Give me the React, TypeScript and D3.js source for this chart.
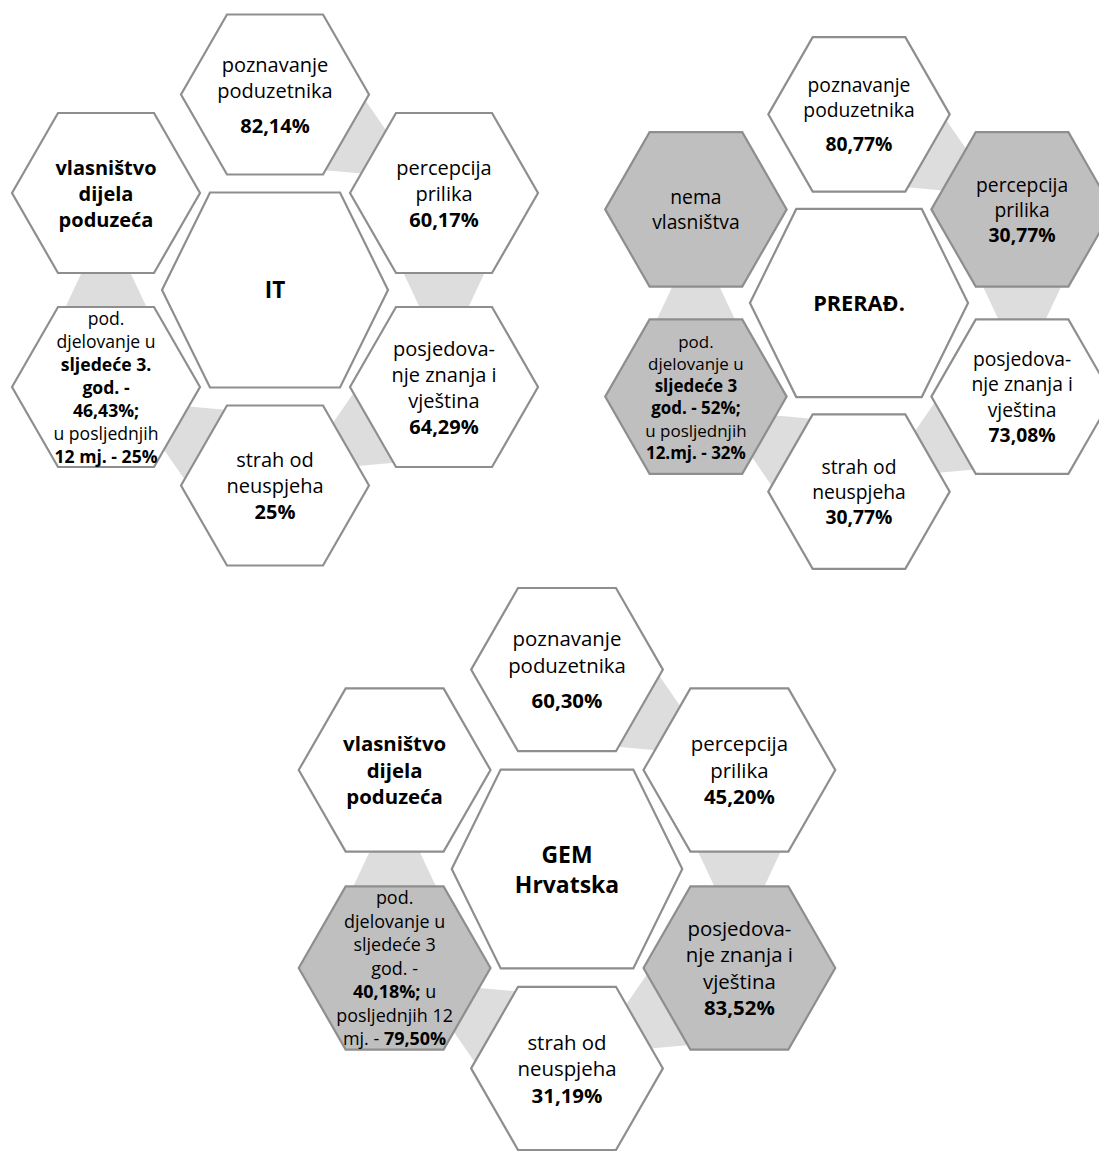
import React from "react";
import * as d3 from "d3";

const W = 1099;
const H = 1151;

// ---- data ----
const clusterNames = ["IT", "PRERAĐ.", "GEM\nHrvatska"];

// labels for outer hexagons, clockwise from the top (**bold**)
const itLabels = [
  "poznavanje\npoduzetnika\n\n**82,14%**",
  "percepcija\nprilika\n**60,17%**",
  "posjedova-\nnje znanja i\nvještina\n**64,29%**",
  "strah od\nneuspjeha\n**25%**",
  "pod.\ndjelovanje u\n**sljedeće 3.**\n**god. -**\n**46,43%;**\nu posljednjih\n**12 mj. - 25%**",
  "**vlasništvo**\n**dijela**\n**poduzeća**",
];
const preradLabels = [
  "poznavanje\npoduzetnika\n\n**80,77%**",
  "percepcija\nprilika\n**30,77%**",
  "posjedova-\nnje znanja i\nvještina\n**73,08%**",
  "strah od\nneuspjeha\n**30,77%**",
  "pod.\ndjelovanje u\n**sljedeće 3**\n**god. - 52%;**\nu posljednjih\n**12.mj. - 32%**",
  "nema\nvlasništva",
];
const gemLabels = [
  "poznavanje\npoduzetnika\n\n**60,30%**",
  "percepcija\nprilika\n**45,20%**",
  "posjedova-\nnje znanja i\nvještina\n**83,52%**",
  "strah od\nneuspjeha\n**31,19%**",
  "pod.\ndjelovanje u\nsljedeće 3\ngod. -\n**40,18%;** u\nposljednjih 12\nmj. - **79,50%**",
  "**vlasništvo**\n**dijela**\n**poduzeća**",
];
const itHighlight = [false, false, false, false, false, false];
const preradHighlight = [false, true, false, false, true, true];
const gemHighlight = [false, false, true, false, true, false];

const clusterLabels = [itLabels, preradLabels, gemLabels];
const clusterHighlights = [itHighlight, preradHighlight, gemHighlight];

// ---- layout ----
const clusterCenters: [number, number][] = [
  [275, 290],
  [859, 303],
  [567, 869],
];
const clusterScales = [1, 0.965, 1.02];

const OFF_TOP = 195.5;
const OFF_SIDE_X = 169;
const OFF_SIDE_Y = 97;
const nodeOffsets: [number, number][] = [
  [0, -OFF_TOP],
  [OFF_SIDE_X, -OFF_SIDE_Y],
  [OFF_SIDE_X, OFF_SIDE_Y],
  [0, OFF_TOP],
  [-OFF_SIDE_X, OFF_SIDE_Y],
  [-OFF_SIDE_X, -OFF_SIDE_Y],
];

const OUTER = { w: 188, h: 160, inset: 46 };
const CENTER = { w: 226, h: 195, inset: 48 };

const STROKE = "#8e8e8e";
const FILL_HI = "#bfbfbf";
const CONNECTOR = "#dddddd";
const FONT = "'Open Sans', 'DejaVu Sans', sans-serif";

function hexPath(cx: number, cy: number, w: number, h: number, inset: number) {
  const p = d3.path();
  p.moveTo(cx - w / 2, cy);
  p.lineTo(cx - w / 2 + inset, cy - h / 2);
  p.lineTo(cx + w / 2 - inset, cy - h / 2);
  p.lineTo(cx + w / 2, cy);
  p.lineTo(cx + w / 2 - inset, cy + h / 2);
  p.lineTo(cx - w / 2 + inset, cy + h / 2);
  p.closePath();
  return p.toString();
}

function connectorPath(a: [number, number], b: [number, number], s: number) {
  const mx = (a[0] + b[0]) / 2;
  const my = (a[1] + b[1]) / 2;
  const dx = b[0] - a[0];
  const dy = b[1] - a[1];
  const len = Math.hypot(dx, dy);
  const ux = dx / len, uy = dy / len;
  const nx = -uy, ny = ux;
  const hw = (t: number) => (32.5 - 0.47 * t) * s;
  const t0 = -60, t1 = 60;
  const pts: [number, number][] = [
    [mx + ux * t0 * s + nx * hw(t0), my + uy * t0 * s + ny * hw(t0)],
    [mx + ux * t1 * s + nx * hw(t1), my + uy * t1 * s + ny * hw(t1)],
    [mx + ux * t1 * s - nx * hw(t1), my + uy * t1 * s - ny * hw(t1)],
    [mx + ux * t0 * s - nx * hw(t0), my + uy * t0 * s - ny * hw(t0)],
  ];
  return d3.line()(pts)! + "Z";
}

type Seg = { t: string; b: boolean };
function parseLine(line: string): Seg[] {
  const parts = line.split("**");
  return parts
    .map((t, i) => ({ t, b: i % 2 === 1 }))
    .filter((p) => p.t.length > 0);
}

function Label({
  cx,
  cy,
  text,
  size,
  spacing,
  bold,
}: {
  cx: number;
  cy: number;
  text: string;
  size: number;
  spacing: number;
  bold?: boolean;
}) {
  const raw = text.split("\n");
  const ys: number[] = [];
  const lines: string[] = [];
  let y = 0;
  let first = true;
  for (const l of raw) {
    if (l === "") {
      y += spacing * 0.35;
      continue;
    }
    if (!first) y += spacing;
    first = false;
    ys.push(y);
    lines.push(l);
  }
  const total = ys[ys.length - 1];
  const top = cy - total / 2 + 1;
  return (
    <g>
      {lines.map((l, i) => (
        <text
          key={i}
          x={cx}
          y={top + ys[i]}
          dy="0.33em"
          textAnchor="middle"
          fontFamily={FONT}
          fontSize={size}
          fill="#000"
          fontWeight={bold ? 700 : 400}
        >
          {parseLine(l).map((sg, j) => (
            <tspan key={j} fontWeight={sg.b || bold ? 700 : 400}>
              {sg.t}
            </tspan>
          ))}
        </text>
      ))}
    </g>
  );
}

function Cluster({ idx }: { idx: number }) {
  const [cx, cy] = clusterCenters[idx];
  const s = clusterScales[idx];
  const labels = clusterLabels[idx];
  const hi = clusterHighlights[idx];
  const nodes: [number, number][] = nodeOffsets.map(([dx, dy]) => [cx + dx * s, cy + dy * s]);
  return (
    <g>
      {nodes.slice(0, 5).map((n, i) => (
        <path key={"c" + i} d={connectorPath(n, nodes[i + 1], s)} fill={CONNECTOR} stroke="none" />
      ))}
      <path
        d={hexPath(cx, cy, CENTER.w * s, CENTER.h * s, CENTER.inset * s)}
        fill="#fff"
        stroke={STROKE}
        strokeWidth={2.2}
      />
      {nodes.map((n, i) => (
        <path
          key={"h" + i}
          d={hexPath(n[0], n[1], OUTER.w * s, OUTER.h * s, OUTER.inset * s)}
          fill={hi[i] ? FILL_HI : "#fff"}
          stroke={STROKE}
          strokeWidth={2.2}
        />
      ))}
      <Label cx={cx} cy={cy} text={clusterNames[idx]} size={22.5 * s} spacing={29.5 * s} bold />
      {nodes.map((n, i) => {
        const small = i === 4;
        return (
          <Label
            key={"t" + i}
            cx={n[0]}
            cy={n[1]}
            text={labels[i]}
            size={(small ? 17.6 : 20) * s}
            spacing={(small ? 23 : 26) * s}
          />
        );
      })}
    </g>
  );
}

export default function App() {
  return (
    <div style={{ position: "absolute", left: 0, top: 0, width: W, height: H, background: "#fff" }}>
      <svg width={W} height={H} viewBox={`0 0 ${W} ${H}`} style={{ display: "block" }}>
        <rect x={0} y={0} width={W} height={H} fill="#fff" />
        {clusterNames.map((_, i) => (
          <Cluster key={i} idx={i} />
        ))}
      </svg>
    </div>
  );
}
